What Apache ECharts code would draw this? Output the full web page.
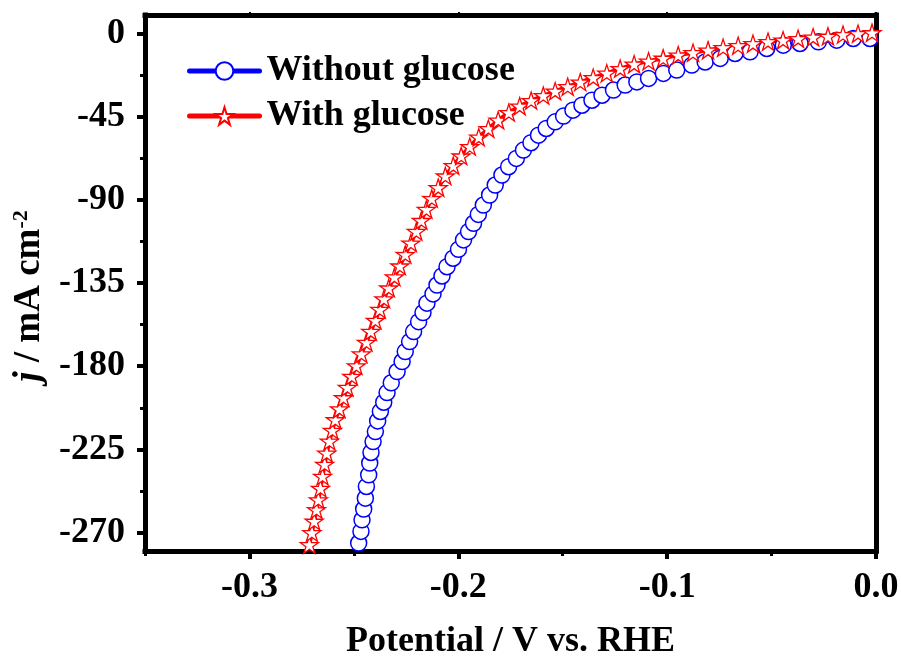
<!DOCTYPE html>
<html><head><meta charset="utf-8">
<script src="https://cdn.jsdelivr.net/npm/echarts@6/dist/echarts.min.js"></script>
<style>html,body{margin:0;padding:0;background:#fff}#c{width:901px;height:657px}</style>
</head><body><div id="c"></div>
<script>
// Without glucose (blue circles): potential (V vs RHE) and current density (mA cm-2)
const withoutGlucoseV = [-0.2477,-0.2466,-0.2461,-0.2453,-0.2445,-0.2440,-0.2429,-0.2424,-0.2418,-0.2408,-0.2397,-0.2386,-0.2373,-0.2357,-0.2341,-0.2321,-0.2293,-0.2269,-0.2254,-0.2233,-0.2214,-0.2190,-0.2169,-0.2150,-0.2121,-0.2102,-0.2078,-0.2054,-0.2025,-0.1999,-0.1975,-0.1951,-0.1927,-0.1904,-0.1880,-0.1850,-0.1823,-0.1791,-0.1759,-0.1722,-0.1688,-0.1652,-0.1616,-0.1579,-0.1536,-0.1496,-0.1451,-0.1408,-0.1360,-0.1312,-0.1257,-0.1201,-0.1145,-0.1089,-0.1018,-0.0954,-0.0882,-0.0818,-0.0746,-0.0675,-0.0603,-0.0523,-0.0444,-0.0364,-0.0276,-0.0188,-0.0109,-0.0029];
const withoutGlucoseJ = [-275.7,-269.4,-263.1,-257.3,-251.4,-245.1,-238.8,-232.4,-226.7,-220.8,-215.4,-209.6,-204.5,-199.5,-194.3,-189.0,-182.9,-177.5,-172.1,-166.7,-161.3,-155.9,-151.0,-145.9,-140.9,-136.1,-131.2,-126.2,-121.6,-116.8,-111.7,-107.2,-102.7,-97.9,-92.8,-87.4,-82.0,-76.6,-72.1,-67.6,-63.1,-59.1,-55.0,-51.4,-47.8,-44.7,-41.5,-38.8,-36.1,-33.4,-30.6,-27.9,-26.2,-24.3,-21.6,-19.8,-17.1,-15.4,-13.5,-10.8,-9.9,-8.1,-6.3,-5.4,-4.5,-3.6,-2.7,-2.7];
// With glucose (red stars)
const withGlucoseV = [-0.2713,-0.2701,-0.2690,-0.2679,-0.2670,-0.2660,-0.2650,-0.2640,-0.2630,-0.2617,-0.2603,-0.2589,-0.2569,-0.2550,-0.2531,-0.2510,-0.2488,-0.2464,-0.2440,-0.2419,-0.2397,-0.2376,-0.2356,-0.2333,-0.2306,-0.2280,-0.2254,-0.2227,-0.2201,-0.2177,-0.2153,-0.2127,-0.2096,-0.2062,-0.2024,-0.1986,-0.1945,-0.1902,-0.1856,-0.1809,-0.1758,-0.1706,-0.1651,-0.1593,-0.1536,-0.1476,-0.1416,-0.1354,-0.1289,-0.1225,-0.1158,-0.1089,-0.1019,-0.0947,-0.0876,-0.0804,-0.0732,-0.0660,-0.0589,-0.0517,-0.0445,-0.0373,-0.0301,-0.0230,-0.0158,-0.0086,-0.0019];
const withGlucoseJ = [-276.6,-270.1,-263.9,-257.7,-252.3,-246.1,-239.6,-233.1,-227.1,-220.6,-214.7,-209.0,-203.1,-197.1,-191.5,-185.5,-179.8,-173.4,-167.1,-161.2,-155.2,-149.3,-143.6,-137.7,-131.7,-125.8,-119.6,-113.4,-107.1,-101.2,-95.2,-89.3,-83.4,-77.1,-71.5,-66.3,-61.2,-56.1,-51.5,-46.9,-42.8,-39.3,-36.3,-33.6,-31.2,-28.8,-26.3,-23.9,-21.5,-19.0,-16.6,-15.0,-13.4,-11.7,-10.4,-9.0,-7.7,-6.6,-5.5,-4.4,-3.6,-2.8,-2.0,-1.5,-0.6,-0.1,0.4];

const seriesNames = ['Without glucose', 'With glucose'];
const xMajorTicks = [-0.3, -0.2, -0.1, 0];
const xMinorTicks = [-0.35, -0.25, -0.15, -0.05];
const yMajorTicks = [0, -45, -90, -135, -180, -225, -270];
const yMinorTicks = [-22.5, -67.5, -112.5, -157.5, -202.5, -247.5];
const xTitle = 'Potential / V vs. RHE';

const FONT = '"Liberation Serif", "Times New Roman", serif';
const X_MIN = -0.35, X_MAX = 0, Y_MIN = -280, Y_MAX = 10;
const STAR = 'path://M50 0 L61.17 34.63 L97.55 34.55 L68.07 55.87 L79.39 90.45 L50 69 L20.61 90.45 L31.93 55.87 L2.45 34.55 L38.83 34.63 Z';

const zip = (a, b) => a.map((v, i) => [v, b[i]]);

const chart = echarts.init(document.getElementById('c'), null, {renderer: 'canvas'});
const lineBlack = {show: true, onZero: false, lineStyle: {color: '#000', width: 5, cap: 'square'}};
const noLine = {show: false, onZero: false};
chart.setOption({
  animation: false,
  backgroundColor: '#fff',
  grid: {left: 145, right: 25, top: 15, bottom: 106, outerBoundsMode: 'none', containLabel: false},
  legend: {
    left: 187, top: 53, orient: 'vertical', padding: 0, itemWidth: 70, itemHeight: 22, itemGap: 9,
    lineStyle: {width: 5, cap: 'round'},
    textStyle: {fontFamily: FONT, fontWeight: 'bold', fontSize: 36, lineHeight: 36, color: '#000', padding: [0, 0, 0, 2]},
    data: seriesNames
  },
  xAxis: [
    {type: 'value', position: 'bottom', min: X_MIN, max: X_MAX,
     axisLine: lineBlack, splitLine: {show: false},
     axisTick: {show: true, customValues: xMajorTicks, length: 8, lineStyle: {width: 4, color: '#000'}},
     axisLabel: {customValues: xMajorTicks, formatter: v => v.toFixed(1), margin: 19,
       fontFamily: FONT, fontWeight: 'bold', fontSize: 36, color: '#000'},
     name: xTitle, nameLocation: 'middle', nameGap: 73,
     nameTextStyle: {fontFamily: FONT, fontWeight: 'bold', fontSize: 36, color: '#000'}},
    {type: 'value', position: 'bottom', min: X_MIN, max: X_MAX,
     axisLine: noLine, splitLine: {show: false}, axisLabel: {show: false},
     axisTick: {show: true, customValues: xMinorTicks, length: 5, lineStyle: {width: 3, color: '#000'}}},
    {type: 'value', position: 'top', min: X_MIN, max: X_MAX,
     axisLine: lineBlack, splitLine: {show: false}, axisLabel: {show: false},
     axisTick: {show: true, customValues: xMajorTicks, length: 3, lineStyle: {width: 2, color: '#000'}}}
  ],
  yAxis: [
    {type: 'value', position: 'left', min: Y_MIN, max: Y_MAX,
     axisLine: lineBlack, splitLine: {show: false},
     axisTick: {show: true, customValues: yMajorTicks, length: 8, lineStyle: {width: 4, color: '#000'}},
     axisLabel: {customValues: yMajorTicks, formatter: v => String(v), margin: 20,
       fontFamily: FONT, fontWeight: 'bold', fontSize: 36, color: '#000'},
     name: '{i|j} / mA cm{s|-2}', nameLocation: 'middle', nameGap: 81, nameRotate: 90,
     nameTextStyle: {fontFamily: FONT, fontWeight: 'bold', fontSize: 37, color: '#000', padding: [0, 26, 0, 0],
       rich: {i: {fontFamily: FONT, fontWeight: 'bold', fontStyle: 'italic', fontSize: 37, color: '#000'},
              s: {fontFamily: FONT, fontWeight: 'bold', fontSize: 22, color: '#000', verticalAlign: 'top', padding: [0, 0, 16, 0]}}}},
    {type: 'value', position: 'left', min: Y_MIN, max: Y_MAX,
     axisLine: noLine, splitLine: {show: false}, axisLabel: {show: false},
     axisTick: {show: true, customValues: yMinorTicks, length: 5, lineStyle: {width: 3, color: '#000'}}},
    {type: 'value', position: 'right', min: Y_MIN, max: Y_MAX,
     axisLine: lineBlack, splitLine: {show: false}, axisLabel: {show: false},
     axisTick: {show: true, customValues: yMajorTicks.concat(yMinorTicks), length: 3, lineStyle: {width: 2, color: '#000'}}}
  ],
  series: [
    {name: seriesNames[0], type: 'line', xAxisIndex: 0, yAxisIndex: 0,
     data: zip(withoutGlucoseV, withoutGlucoseJ), showAllSymbol: true,
     symbol: 'circle', symbolSize: 16,
     lineStyle: {color: '#0000ff', width: 4},
     itemStyle: {color: '#ffffff', borderColor: '#0000ff', borderWidth: 1.5}},
    {name: seriesNames[1], type: 'line', xAxisIndex: 0, yAxisIndex: 0,
     data: zip(withGlucoseV, withGlucoseJ), showAllSymbol: true,
     symbol: STAR, symbolSize: 18, symbolKeepAspect: true,
     lineStyle: {color: '#ff0000', width: 4},
     itemStyle: {color: '#ffffff', borderColor: '#ff0000', borderWidth: 1.3}}
  ]
});
</script>
</body></html>
